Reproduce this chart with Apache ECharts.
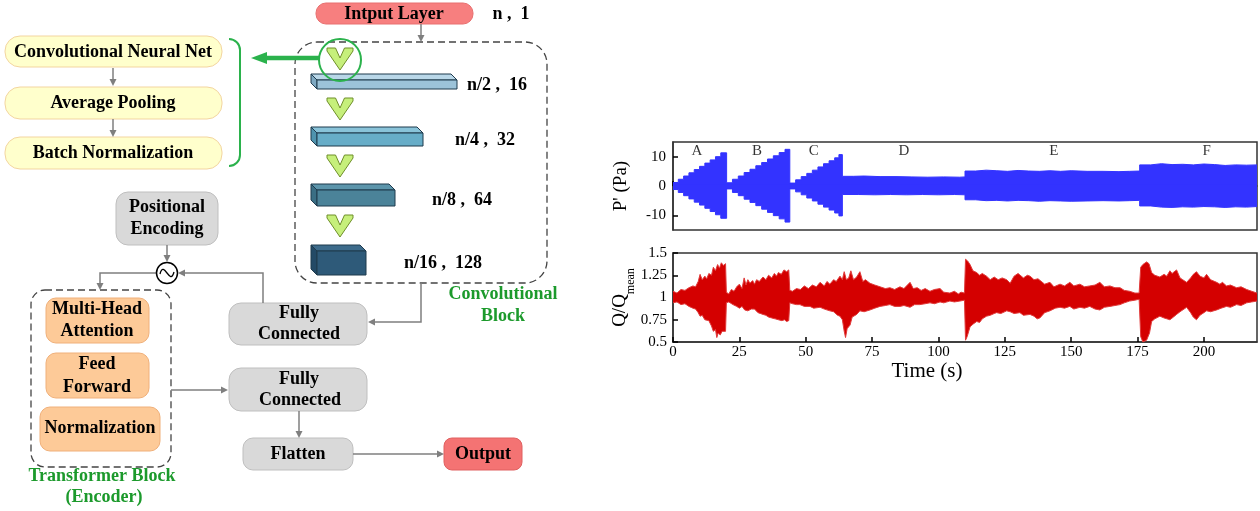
<!DOCTYPE html>
<html><head><meta charset="utf-8">
<script src="https://cdn.jsdelivr.net/npm/echarts@6/dist/echarts.min.js"></script>
<style>html,body{margin:0;padding:0;background:#fff}#c{width:1260px;height:511px}</style>
</head><body><div id="c"></div><script>
// ---------------- data ----------------
const timeTicks = [0, 25, 50, 75, 100, 125, 150, 175, 200];
const pTicks = [-10, 0, 10];
const segLabels = ['A', 'B', 'C', 'D', 'E', 'F'];
const segLabelT = [9, 31.6, 53, 87, 143.5, 201];
const segLabelP = 11.8;

// pressure fluctuation envelope (upper / lower), Pa
const pUpper = [[0,1.2],[2,2.3],[4,3.4],[6,4.5],[8,5.6],[10,6.7],[12,7.8],[14,8.9],[16,10.0],[18,11.3],
 [20.2,1.1],[22.4,2.3],[24.6,3.4],[26.8,4.6],[29,5.7],[31.2,6.9],[33.4,8.0],[35.6,9.2],[37.8,10.3],[40,11.4],[42.2,12.5],
 [44,1.0],[46.2,2.1],[48.3,3.2],[50.4,4.3],[52.5,5.4],[54.6,6.5],[56.7,7.6],[58.8,8.6],[60.9,9.6],[62.5,10.7],
 [63.8,3.3],[68,3.4],[72,3.2],[78,3.2],[84,3.1],[90,3.0],[96,3.1],[102,3.0],[108,3.1],
 [110,5.1],[114,5.4],[118,5.2],[122,5.0],[126,5.3],[130,5.1],[134,5.0],[138,5.2],[142,5.0],[146,5.2],[150,5.0],[156,5.0],[162,4.9],[168,5.0],[172,5.1],
 [175.8,7.2],[180,7.6],[184,7.3],[188,7.4],[192,7.2],[196,7.5],[200,7.3],[204,7.0],[208,7.2],[212,7.1],[216,7.2],[220,7.2]];
const pLower = [[0,-1.2],[2,-2.2],[4,-3.3],[6,-4.4],[8,-5.5],[10,-6.5],[12,-7.6],[14,-8.7],[16,-9.8],[18,-11.0],
 [20.2,-1.0],[22.4,-2.2],[24.6,-3.3],[26.8,-4.5],[29,-5.6],[31.2,-6.7],[33.4,-7.9],[35.6,-9.0],[37.8,-10.1],[40,-11.2],[42.2,-12.3],
 [44,-1.0],[46.2,-2.0],[48.3,-3.0],[50.4,-4.1],[52.5,-5.1],[54.6,-6.2],[56.7,-7.2],[58.8,-8.2],[60.9,-9.2],[62.5,-10.2],
 [63.8,-2.9],[70,-3.0],[76,-2.9],[82,-3.0],[88,-2.9],[94,-3.0],[100,-2.9],[106,-3.0],
 [110,-4.7],[114,-5.0],[118,-4.9],[122,-5.1],[126,-4.9],[130,-5.0],[134,-5.2],[138,-5.0],[142,-5.1],[146,-5.2],[150,-5.1],[156,-5.0],[162,-5.1],[168,-5.0],[172,-4.9],
 [175.8,-6.8],[180,-7.2],[184,-7.3],[188,-7.1],[192,-7.2],[196,-7.0],[200,-7.1],[204,-7.3],[208,-7.1],[212,-7.2],[216,-7.0],[220,-7.1]];

// heat release rate envelope (upper / lower), Q/Qmean
const qUpper = [[0,1.07],[1.5,1.05],[3,1.09],[4.5,1.08],[6,1.11],[7.5,1.13],[8.5,1.12],[9.5,1.18],[10.2,1.26],[11,1.2],[12,1.24],[12.7,1.21],[13.5,1.27],[14.5,1.25],[15.2,1.34],[16,1.3],[16.8,1.37],[17.5,1.33],[18.2,1.39],[19,1.36],[19.8,1.38],[20.1,1.06],
 [21,1.04],[22,1.09],[23,1.07],[24,1.12],[25,1.15],[26,1.1],[26.8,1.22],[27.5,1.14],[28.2,1.2],[29,1.16],[30,1.19],[30.7,1.15],[31.5,1.2],[32.5,1.18],[33.9,1.23],[35,1.2],[36,1.25],[37.2,1.22],[38.2,1.27],[39,1.24],[39.7,1.28],[40.8,1.26],[41.8,1.31],[42.8,1.29],[43.6,1.31],[44,1.08],
 [45,1.07],[46.5,1.1],[48,1.09],[49.5,1.13],[51,1.1],[52.5,1.14],[54,1.12],[55.4,1.17],[57,1.13],[58,1.18],[59.1,1.15],[60.5,1.2],[61.5,1.18],[62.9,1.24],[63.8,1.2],[64.5,1.29],[65.3,1.2],[66.2,1.22],[67,1.3],[68,1.2],[69.2,1.23],[70.4,1.29],[71.5,1.18],[72.5,1.2],[74.2,1.16],[76,1.14],[78,1.12],[80,1.1],[81.7,1.11],[83.5,1.09],[85.5,1.12],[87,1.1],[89.3,1.17],[90.5,1.1],[92,1.11],[93.5,1.08],[95,1.1],[96.8,1.07],[98.5,1.09],[100.6,1.1],[102,1.06],[104.3,1.05],[106,1.07],[107.5,1.04],[108.5,1.06],[109.8,1.05],
 [110.2,1.43],[111,1.41],[111.9,1.37],[113,1.3],[114.4,1.28],[115.5,1.25],[116.5,1.27],[118.1,1.24],[119.5,1.2],[121,1.23],[122.5,1.2],[124,1.22],[125.7,1.2],[127,1.16],[128.5,1.24],[130,1.27],[130.7,1.28],[132,1.22],[133.5,1.25],[134.5,1.24],[136,1.2],[137.5,1.21],[138.2,1.22],[140,1.15],[142,1.17],[143.5,1.12],[145.8,1.15],[147.5,1.13],[149.5,1.17],[151,1.13],[153.3,1.15],[155,1.12],[157,1.13],[159,1.14],[160.8,1.17],[162.5,1.12],[164.6,1.13],[166.5,1.11],[168.4,1.11],[170,1.08],[172,1.07],[174,1.05],[175.6,1.05],
 [176.2,1.34],[177,1.37],[178.4,1.4],[179.3,1.38],[180.3,1.28],[181.5,1.25],[183.4,1.23],[185,1.26],[186,1.24],[187.2,1.3],[188,1.27],[189.7,1.31],[191,1.22],[192,1.2],[193.5,1.17],[195,1.22],[196,1.26],[197.2,1.29],[198.5,1.24],[200,1.22],[201,1.26],[202.5,1.2],[204.8,1.17],[206,1.15],[207,1.17],[208.5,1.13],[210,1.14],[212.3,1.11],[214,1.12],[216.1,1.09],[218,1.07],[220,1.05]];
const qLower = [[0,0.94],[1.5,0.95],[3,0.92],[4.5,0.93],[6,0.9],[7.5,0.88],[8.5,0.87],[9.5,0.83],[10.2,0.79],[11,0.8],[12,0.75],[12.7,0.73],[13.5,0.74],[14.5,0.68],[15.2,0.62],[16,0.64],[16.5,0.55],[17,0.6],[17.8,0.58],[18.5,0.62],[19.2,0.6],[19.8,0.62],[20.1,0.94],
 [21,0.95],[22.6,0.92],[24,0.9],[25,0.88],[26,0.9],[27,0.86],[28.2,0.85],[29.5,0.87],[30.7,0.87],[32,0.83],[33.9,0.81],[35,0.8],[36,0.78],[37.2,0.77],[38.5,0.76],[39.7,0.75],[41,0.74],[42,0.75],[42.8,0.73],[43.6,0.74],[44,0.94],
 [45,0.93],[46.5,0.92],[47.8,0.92],[49.5,0.9],[51.6,0.9],[53,0.88],[55.4,0.89],[57,0.87],[59.1,0.85],[60.5,0.84],[62,0.8],[62.9,0.79],[63.8,0.75],[64.5,0.62],[65,0.55],[65.6,0.65],[66.7,0.69],[67.5,0.78],[69.2,0.81],[70.4,0.85],[72,0.84],[74.2,0.86],[76,0.88],[78,0.9],[80,0.91],[81.7,0.92],[83.5,0.9],[85.5,0.9],[87,0.91],[89.3,0.89],[91,0.92],[93,0.92],[95,0.93],[96.8,0.94],[98.5,0.93],[100.6,0.95],[102,0.94],[104.3,0.96],[106,0.95],[108.1,0.96],[109.8,0.97],
 [110.2,0.52],[110.8,0.56],[111.9,0.67],[113,0.7],[114.4,0.73],[115.5,0.72],[116.5,0.76],[118.1,0.79],[119.5,0.8],[121,0.82],[121.9,0.83],[123.5,0.82],[125.7,0.85],[127,0.84],[128.5,0.82],[130.7,0.83],[132,0.8],[134.5,0.81],[136,0.79],[137.2,0.76],[138.2,0.77],[140,0.83],[142,0.85],[144,0.88],[145.8,0.89],[147.5,0.88],[149.5,0.9],[151,0.87],[153.3,0.89],[155,0.88],[157,0.9],[159,0.87],[160.8,0.86],[162.5,0.89],[164.6,0.9],[166.5,0.91],[168.4,0.92],[170,0.94],[172,0.96],[174,0.97],[175.6,0.98],
 [176.2,0.56],[177,0.5],[178.4,0.52],[179.5,0.6],[180.3,0.73],[181.5,0.76],[183.4,0.79],[185,0.77],[187.2,0.75],[188.5,0.78],[189.7,0.81],[191,0.84],[193.5,0.89],[195,0.83],[196,0.78],[197.2,0.75],[198.5,0.8],[200,0.83],[201,0.85],[202.5,0.84],[204.8,0.86],[206.5,0.88],[208.5,0.9],[210,0.89],[212.3,0.92],[214,0.91],[216.1,0.94],[218,0.95],[220,0.96]];

// ---------------- diagram helpers ----------------
const SERIF = "'Liberation Serif','Times New Roman',serif";
const GREEN = '#2bb24c', GTEXT = '#1c9a2c', GRAY = '#7f7f7f';
function T(s, x, y, color, size) {
  return {type:'text', z:20, style:{text:s, x:x, y:y, font:'bold ' + (size||18) + 'px ' + SERIF, fill:color||'#000',
    textAlign:'center', textVerticalAlign:'middle', align:'center', verticalAlign:'middle'}};
}
function B(x, y, w, h, r, fill, stroke) {
  return {type:'rect', z:5, shape:{x:x, y:y, width:w, height:h, r:r}, style:{fill:fill, stroke:stroke, lineWidth:1}};
}
function D(x, y, w, h, r) {
  return {type:'rect', z:4, shape:{x:x, y:y, width:w, height:h, r:r}, style:{fill:'none', stroke:'#444', lineWidth:1.3, lineDash:[7,4]}};
}
function A(pts, color, w, hl, hw) {
  color = color || GRAY; w = w || 1.5; hl = hl || 7; hw = hw || 3.5;
  const n = pts.length, p1 = pts[n-2], p2 = pts[n-1];
  const dx = p2[0]-p1[0], dy = p2[1]-p1[1], L = Math.hypot(dx, dy), ux = dx/L, uy = dy/L;
  const bx = p2[0]-ux*hl, by = p2[1]-uy*hl;
  const line = pts.slice(0, n-1).concat([[bx, by]]);
  return [
    {type:'polyline', z:6, shape:{points:line}, style:{stroke:color, lineWidth:w, fill:'none'}},
    {type:'polygon', z:6, shape:{points:[[p2[0],p2[1]],[bx-uy*hw, by+ux*hw],[bx+uy*hw, by-ux*hw]]}, style:{fill:color}}
  ];
}
function chevron(cx, y0) {
  return {type:'polygon', z:8, shape:{points:[[cx-13,y0],[cx-4.5,y0],[cx,y0+10],[cx+4.5,y0],[cx+13,y0],[cx+13,y0+3],[cx,y0+22],[cx-13,y0+3]]},
    style:{fill:'#c6ef7b', stroke:'#6f8f2a', lineWidth:1}};
}
function bar3d(x0, y0, x1, y1, front, top, side) {
  const d = 6, st = {stroke:'#1f3a4d', lineWidth:1};
  return [
    {type:'polygon', z:7, shape:{points:[[x0,y0],[x1-d,y0],[x1,y0+d],[x0+d,y0+d]]}, style:Object.assign({fill:top}, st)},
    {type:'polygon', z:7, shape:{points:[[x0,y0],[x0+d,y0+d],[x0+d,y1],[x0,y1-d]]}, style:Object.assign({fill:side}, st)},
    {type:'rect', z:7, shape:{x:x0+d, y:y0+d, width:x1-x0-d, height:y1-y0-d}, style:Object.assign({fill:front}, st)}
  ];
}

const YF = '#ffffcc', YS = '#f3d5a0', GF = '#d9d9d9', GS = '#bfbfbf', OF = '#fdca98', OS = '#f0b07a';
let els = [];
// CNN detail
els.push(B(5,36,217,31,15,YF,YS), T('Convolutional Neural Net',113,52));
els.push(B(5,87,217,32,15,YF,YS), T('Average Pooling',113,103));
els.push(B(5,137,217,32,15,YF,YS), T('Batch Normalization',113,153));
els = els.concat(A([[113,68],[113,86]]), A([[113,119],[113,137]]));
els.push({type:'arc', z:6, shape:{cx:229, cy:50, r:11, startAngle:-Math.PI/2, endAngle:0, clockwise:true}, style:{stroke:GREEN, lineWidth:2, fill:'none'}});
els.push({type:'line', z:6, shape:{x1:240, y1:50, x2:240, y2:155}, style:{stroke:GREEN, lineWidth:2}});
els.push({type:'arc', z:6, shape:{cx:229, cy:155, r:11, startAngle:0, endAngle:Math.PI/2, clockwise:true}, style:{stroke:GREEN, lineWidth:2, fill:'none'}});
els = els.concat(A([[320,58],[251,58]], GREEN, 4.5, 16, 6));
// input + conv block
els.push(B(316,3,157,21,10,'#f77f7f','#e87070'), T('Intput Layer',394,14), T('n ,  1',511,14));
els = els.concat(A([[421,24],[421,42]]));
els.push(D(295,42,252,241,22));
els.push(chevron(340,48), chevron(340,98), chevron(340,155), chevron(340,215));
els.push({type:'circle', z:9, shape:{cx:340, cy:60, r:21}, style:{fill:'none', stroke:GREEN, lineWidth:2}});
els = els.concat(bar3d(311,74,457,89,'#9cc3d9','#b9d7e8','#7fa9c2'));
els = els.concat(bar3d(311,127,423,146,'#67adc8','#89c3d9','#4f93ae'));
els = els.concat(bar3d(311,184,395,206,'#4b8399','#5c95ab','#3a6e84'));
els = els.concat(bar3d(311,245,366,275,'#2e5a79','#3d6b8b','#234a66'));
els.push(T('n/2 ,  16',497,85), T('n/4 ,  32',485,140), T('n/8 ,  64',462,200), T('n/16 ,  128',443,263));
els.push(T('Convolutional',503,294,GTEXT), T('Block',503,316,GTEXT));
els = els.concat(A([[421,283],[421,322],[368,322]]));
// fully connected 1 + positional encoding
els.push(B(229,303,138,42,12,GF,GS), T('Fully',299,313), T('Connected',299,334));
els = els.concat(A([[263,303],[263,273],[178,273]]));
els.push(B(116,192,102,53,12,GF,GS), T('Positional',167,207), T('Encoding',167,229));
els = els.concat(A([[167,245],[167,262]]));
els.push({type:'circle', z:9, shape:{cx:167, cy:273, r:10.5}, style:{fill:'#fff', stroke:'#000', lineWidth:1.5}});
els.push({type:'bezierCurve', z:10, shape:{x1:160, y1:274, cpx1:164, cpy1:259, cpx2:170, cpy2:287, x2:174, y2:272}, style:{stroke:'#000', lineWidth:1.3, fill:'none'}});
els = els.concat(A([[156,273],[100,273],[100,290]]));
// transformer block
els.push(D(31,290,140,177,14));
els.push(B(46,298,103,45,10,OF,OS), T('Multi-Head',97,309), T('Attention',97,331));
els.push(B(46,353,103,45,10,OF,OS), T('Feed',97,364), T('Forward',97,387));
els.push(B(40,407,120,44,10,OF,OS), T('Normalization',100,428));
els.push(T('Transformer Block',102,476,GTEXT), T('(Encoder)',104,497,GTEXT));
els = els.concat(A([[171,390],[228,390]]));
// FC2, flatten, output
els.push(B(229,368,138,43,12,GF,GS), T('Fully',299,379), T('Connected',300,400));
els = els.concat(A([[299,411],[299,438]]));
els.push(B(243,438,110,32,10,GF,GS), T('Flatten',298,454));
els = els.concat(A([[353,454],[444,454]]));
els.push(B(444,438,78,32,8,'#f47373','#e06060'), T('Output',483,454));

// ---------------- chart ----------------
const axisTxt = {fontFamily:SERIF, fontSize:15, color:'#000'};
const chart = echarts.init(document.getElementById('c'), null, {renderer:'canvas'});
chart.setOption({
  animation:false,
  backgroundColor:'#fff',
  graphic:{elements:els},
  grid:[
    {left:673, top:142, width:584, height:88, show:true, borderColor:'#333', borderWidth:1.5, backgroundColor:'transparent'},
    {left:673, top:253, width:584, height:89, show:true, borderColor:'#333', borderWidth:1.5, backgroundColor:'transparent'}
  ],
  xAxis:[
    {gridIndex:0, type:'value', min:0, max:220,
     axisLine:{show:true, lineStyle:{color:'#333', width:1.5}},
     axisTick:{show:true, inside:true, length:5, customValues:timeTicks, lineStyle:{color:'#000', width:1.5}},
     axisLabel:{show:false}, splitLine:{show:false}},
    {gridIndex:1, type:'value', min:0, max:220,
     axisLine:{show:true, lineStyle:{color:'#333', width:1.5}},
     axisTick:{show:true, inside:true, length:5, customValues:timeTicks, lineStyle:{color:'#000', width:1.5}},
     axisLabel:Object.assign({show:true, margin:3, customValues:timeTicks}, axisTxt), splitLine:{show:false},
     name:'Time (s)', nameLocation:'middle', nameGap:12,
     nameTextStyle:{fontFamily:SERIF, fontSize:21, color:'#000', padding:[0,76,0,0]}}
  ],
  yAxis:[
    {gridIndex:0, type:'value', min:-15, max:15,
     axisLine:{show:true, lineStyle:{color:'#333', width:1.5}},
     axisTick:{show:true, inside:true, length:5, customValues:pTicks, lineStyle:{color:'#000', width:1.5}},
     axisLabel:Object.assign({show:true, margin:7, customValues:pTicks}, axisTxt), splitLine:{show:false},
     name:"P' (Pa)", nameLocation:'middle', nameRotate:90, nameGap:42, nameTextStyle:{fontFamily:SERIF, fontSize:19, color:'#000'}},
    {gridIndex:1, type:'value', min:0.5, max:1.5, interval:0.25,
     axisLine:{show:true, lineStyle:{color:'#333', width:1.5}},
     axisTick:{show:true, inside:true, length:5, lineStyle:{color:'#000', width:1.5}},
     axisLabel:Object.assign({show:true, margin:6}, axisTxt), splitLine:{show:false},
     name:'{a|Q/Q}{b|mean}', nameLocation:'middle', nameRotate:90, nameGap:33,
     nameTextStyle:{fontFamily:SERIF, color:'#000', rich:{
       a:{fontFamily:SERIF, fontSize:19, color:'#000', lineHeight:22, verticalAlign:'top'},
       b:{fontFamily:SERIF, fontSize:12, color:'#000', lineHeight:26, verticalAlign:'bottom'}}}}
  ],
  series:[
    {type:'line', xAxisIndex:0, yAxisIndex:0, data:pUpper, step:'end', symbol:'none', silent:true,
     lineStyle:{color:'#3333ff', width:1}, areaStyle:{color:'#3333ff', opacity:1, origin:-0.5}},
    {type:'line', xAxisIndex:0, yAxisIndex:0, data:pLower, step:'end', symbol:'none', silent:true,
     lineStyle:{color:'#3333ff', width:1}, areaStyle:{color:'#3333ff', opacity:1, origin:0.5}},
    {type:'scatter', xAxisIndex:0, yAxisIndex:0, symbolSize:1, itemStyle:{color:'rgba(0,0,0,0)'}, silent:true,
     data:segLabelT.map((t,i) => ({name:segLabels[i], value:[t, segLabelP]})),
     label:{show:true, position:'inside', formatter:'{b}', fontFamily:SERIF, fontSize:15, color:'#000'}},
    {type:'line', xAxisIndex:1, yAxisIndex:1, data:qUpper, symbol:'none', silent:true,
     lineStyle:{color:'#e03a3a', width:1}, areaStyle:{color:'#d40000', opacity:1, origin:0.99}},
    {type:'line', xAxisIndex:1, yAxisIndex:1, data:qLower, symbol:'none', silent:true,
     lineStyle:{color:'#e03a3a', width:1}, areaStyle:{color:'#d40000', opacity:1, origin:1.01}}
  ]
});
</script></body></html>
